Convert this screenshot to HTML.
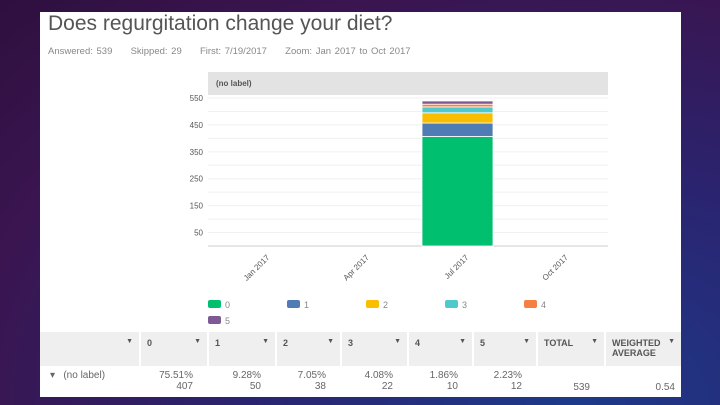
<!DOCTYPE html>
<html><head><meta charset="utf-8"><style>
body{margin:0;width:720px;height:405px;overflow:hidden;background:radial-gradient(ellipse at 80% 100%,#1d3a8a 0%,#2a2470 40%,#3a1550 75%,#2e0f3e 100%);font-family:"Liberation Sans",sans-serif;position:relative}
#panel{position:absolute;left:40px;top:12px;width:641px;height:385px;background:#fff}
.t{position:absolute;white-space:nowrap}
table{position:absolute;left:0;top:320px;border-collapse:collapse;font-size:9px;color:#555}
td{border-right:2px solid #fff;padding:0 6px;box-sizing:border-box}
.hd td{background:#efefef;height:34px;vertical-align:top;padding-top:6px;font-weight:bold;color:#555}
.dr td{height:31px;text-align:right;vertical-align:top;padding-top:4px;padding-right:14px;color:#666;font-size:10px}
.ar{float:right;font-size:7px}
</style></head><body>
<div id="panel">
<div class="t" style="left:8px;top:0px;font-size:21px;color:#555">Does regurgitation change your diet?</div>
<div class="t" style="left:8px;top:34px;font-size:9.5px;color:#888;word-spacing:1px">Answered: 539&nbsp;&nbsp;&nbsp;&nbsp;&nbsp;Skipped: 29&nbsp;&nbsp;&nbsp;&nbsp;&nbsp;First: 7/19/2017&nbsp;&nbsp;&nbsp;&nbsp;&nbsp;Zoom: Jan 2017 to Oct 2017</div>
<table>
<tr class="hd">
<td style="width:100px;text-align:right"><span class="ar">▼</span></td>
<td style="width:68px">0<span class="ar">▼</span></td>
<td style="width:68px">1<span class="ar">▼</span></td>
<td style="width:65px">2<span class="ar">▼</span></td>
<td style="width:67px">3<span class="ar">▼</span></td>
<td style="width:65px">4<span class="ar">▼</span></td>
<td style="width:64px">5<span class="ar">▼</span></td>
<td style="width:68px">TOTAL<span class="ar">▼</span></td>
<td style="width:76px;border:none">WEIGHTED<span class="ar">▼</span><br>AVERAGE</td>
</tr>
<tr class="dr">
<td style="text-align:left;padding-left:10px">▾&nbsp;&nbsp;&nbsp;(no label)</td>
<td>75.51%<br>407</td><td>9.28%<br>50</td><td>7.05%<br>38</td><td>4.08%<br>22</td><td>1.86%<br>10</td><td>2.23%<br>12</td>
<td style="vertical-align:bottom;padding-bottom:4px">539</td><td style="vertical-align:bottom;padding-bottom:4px;padding-right:6px;border:none">0.54</td>
</tr></table>
</div>
<svg id="chart" width="720" height="405" style="position:absolute;left:0;top:0"></svg>
<script>
const categories=["Jan 2017","Apr 2017","Jul 2017","Oct 2017"];
const seriesNames=["0","1","2","3","4","5"];
const seriesColors=["#00bf6f","#507cb6","#f9be00","#4fc9cc","#f68042","#7d5a96"];
const julValues=[407,50,38,22,10,12];
const yTicks=[50,150,250,350,450,550];
const ns="http://www.w3.org/2000/svg",svg=document.getElementById('chart');
function mk(t,a,txt){const e=document.createElementNS(ns,t);for(const k in a)e.setAttribute(k,a[k]);if(txt!==undefined)e.textContent=txt;svg.appendChild(e);return e;}
const X0=208,X1=608,Y0=246,YT=98;
const y=v=>Y0-(v/550)*(Y0-YT);
const xc=i=>250+i*99.5;
let e=mk('rect',{x:X0,y:72,width:X1-X0,height:23,fill:'#e3e3e3'});

e=mk('text',{x:216,y:86,'font-size':8,'font-weight':'bold',fill:'#555'},'(no label)');

for(let v=50;v<=550;v+=50){e=mk('line',{x1:X0,x2:X1,y1:y(v),y2:y(v),stroke:'#f0f0f0'});}
yTicks.forEach(v=>{e=mk('text',{x:203,y:y(v)+3,'font-size':8,fill:'#555','text-anchor':'end'},v);
});
e=mk('line',{x1:X0,x2:X1,y1:Y0,y2:Y0,stroke:'#ccc'});
categories.forEach((c,i)=>{const lx=xc(i)+20,ly=Y0+12;e=mk('text',{x:lx,y:ly,'font-size':8,fill:'#555','text-anchor':'end',transform:`rotate(-45 ${lx} ${ly})`},c);
});
let cum=0;
julValues.forEach((v,i)=>{e=mk('rect',{x:xc(2)-27,y:y(cum+v),width:71,height:y(cum)-y(cum+v),fill:seriesColors[i],stroke:'#fff','stroke-width':0.8});
cum+=v;});
seriesNames.forEach((s,i)=>{const lx=208+(i%5)*79,ly=300+Math.floor(i/5)*16;
e=mk('rect',{x:lx,y:ly,width:13,height:8,rx:2,fill:seriesColors[i]});
e=mk('text',{x:lx+17,y:ly+8,'font-size':9,fill:'#888'},s);});
</script>
</body></html>
